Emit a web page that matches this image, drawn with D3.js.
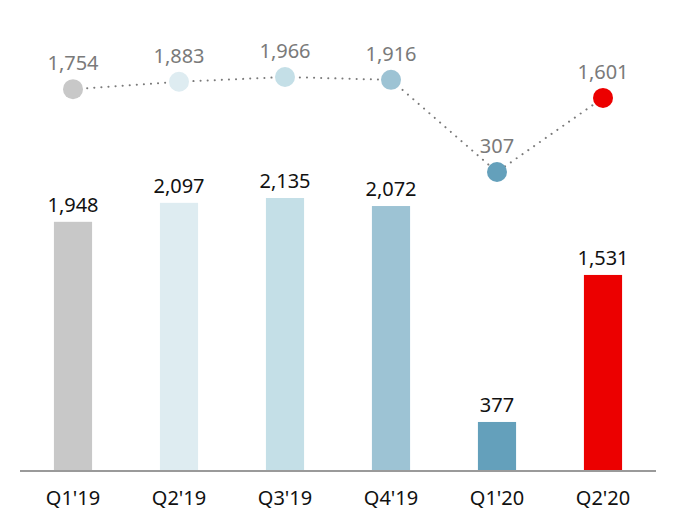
<!DOCTYPE html>
<html><head><meta charset="utf-8">
<script src="https://cdn.jsdelivr.net/npm/d3@7/dist/d3.min.js"></script>
<style>body{margin:0;background:#fff}svg{display:block}text{font-family:"Noto Sans","Open Sans",sans-serif}</style>
</head><body><svg id="c" width="676" height="530"></svg>
<script>
const categories = ["Q1'19","Q2'19","Q3'19","Q4'19","Q1'20","Q2'20"];
const barValues = [1948,2097,2135,2072,377,1531];
const lineValues = [1754,1883,1966,1916,307,1601];
const colors = ["#c8c8c8","#deecf1","#c4dfe7","#9dc3d4","#64a0bb","#ec0000"];

const svg = d3.select("#c");
const x = d3.scaleBand().domain(categories).range([20,656]).paddingInner(0.64).paddingOuter(0.32);
const yBar = d3.scaleLinear().domain([0,2135]).range([470,198]);
const yLine = d3.scaleLinear().domain([0,1966]).range([189.6,77]);
const cx = d => x(d)+x.bandwidth()/2;

svg.selectAll("rect.bar").data(categories).join("rect")
  .attr("x",d=>x(d)).attr("width",x.bandwidth())
  .attr("y",(d,i)=>yBar(barValues[i])).attr("height",(d,i)=>yBar(0)-yBar(barValues[i]))
  .attr("fill",(d,i)=>colors[i]);

svg.selectAll("text.bl").data(categories).join("text")
  .attr("x",cx).attr("y",(d,i)=>yBar(barValues[i])-10)
  .attr("text-anchor","middle").attr("font-size",20).attr("fill","#111")
  .text((d,i)=>d3.format(",")(barValues[i]));

const axis = d3.axisBottom(x).tickSize(0).tickPadding(20);
const g = svg.append("g").attr("transform","translate(0,471)").call(axis);
g.select(".domain").attr("stroke","#9a9a9a").attr("stroke-width",2).attr("d","M20,0H656");
g.selectAll("text").attr("font-size",20).attr("fill","#111").attr("font-family","Noto Sans, Open Sans, sans-serif");

const line = d3.line().x(d=>cx(d)).y((d,i)=>yLine(lineValues[i]));
svg.append("path").attr("d",line(categories)).attr("fill","none")
  .attr("stroke","#7a7a7a").attr("stroke-width",2).attr("stroke-dasharray","0.1,7").attr("stroke-linecap","round");

svg.selectAll("circle").data(categories).join("circle")
  .attr("cx",cx).attr("cy",(d,i)=>yLine(lineValues[i])).attr("r",10).attr("fill",(d,i)=>colors[i]);

svg.selectAll("text.ll").data(categories).join("text")
  .attr("x",cx).attr("y",(d,i)=>yLine(lineValues[i])-19)
  .attr("text-anchor","middle").attr("font-size",20).attr("fill","#7a7a7a")
  .text((d,i)=>d3.format(",")(lineValues[i]));
</script></body></html>
